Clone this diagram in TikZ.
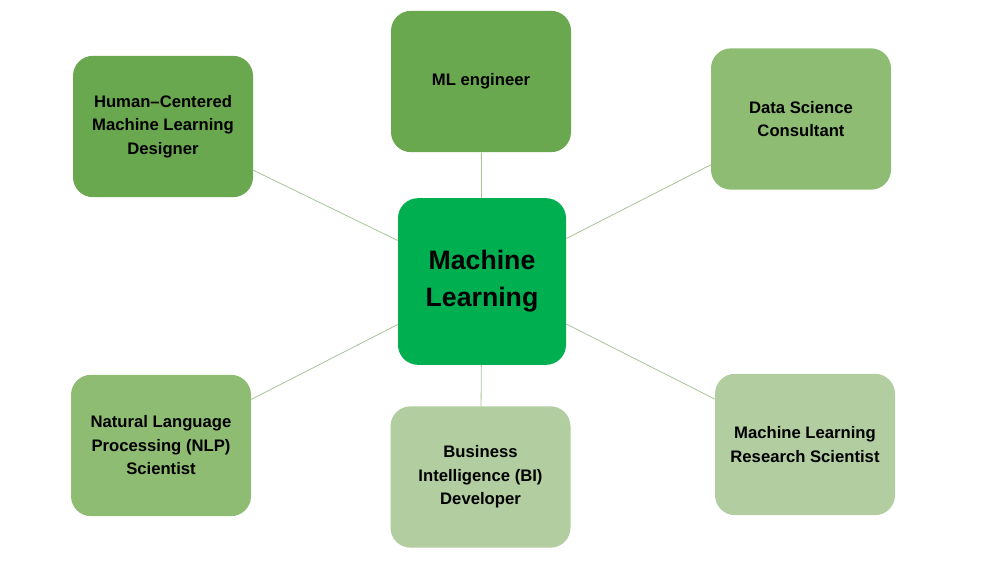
\documentclass[tikz,border=0pt]{standalone}
\usepackage{fontspec}
\setmainfont{Liberation Sans}
\usepackage{tikz}
\definecolor{hubfill}{RGB}{0,176,80}
\definecolor{darkgr}{RGB}{106,168,79}
\definecolor{midgr}{RGB}{143,188,115}
\definecolor{lightgr}{RGB}{178,205,160}
\definecolor{linkln}{RGB}{168,196,150}
\tikzset{
  box/.style ={rounded corners=15pt, minimum width=135pt, minimum height=106pt,
               align=center, font=\fontsize{12.5}{17.6}\selectfont\bfseries, inner sep=2pt},
  hub/.style ={box, fill=hubfill, minimum width=126pt, minimum height=125pt,
               font=\fontsize{20}{27.8}\selectfont\bfseries},
  lnk/.style ={draw=linkln, line width=0.6pt},
}
\begin{document}
\begin{tikzpicture}[x=0.75pt,y=-0.75pt]
  \useasboundingbox (0,0) rectangle (1000,563);
  \node[hub] (ml) at (482,281.5) {Machine\\Learning};
  \node[box,fill=darkgr] (hcd) at (163,126.5) {Human--Centered\\Machine Learning\\Designer};
  \node[box,fill=darkgr] (mle) at (481,81.5) {ML engineer};
  \node[box,fill=midgr] (dsc) at (801,119) {Data Science\\Consultant};
  \node[box,fill=midgr] (nlp) at (161,445.5) {Natural Language\\Processing (NLP)\\Scientist};
  \node[box,fill=lightgr] (bid) at (480.5,477) {Business\\Intelligence (BI)\\Developer};
  \node[box,fill=lightgr] (mlr) at (805,444.5) {Machine Learning\\Research Scientist};
  \foreach \t in {hcd,mle,dsc,nlp,bid,mlr}
    \draw[lnk] (ml) -- (\t);
\end{tikzpicture}
\end{document}
